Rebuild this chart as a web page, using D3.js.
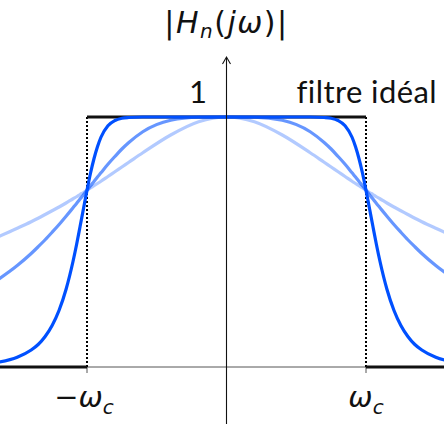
<!DOCTYPE html>
<html>
<head>
<meta charset="utf-8">
<script src="https://cdn.jsdelivr.net/npm/d3@7/dist/d3.min.js"></script>
<style>
  html, body { margin: 0; padding: 0; background: #fff; }
  svg { display: block; }
  text { font-family: Lato, "DejaVu Sans", sans-serif; fill: #111; }
  text.math { font-family: "DejaVu Sans", sans-serif; }
</style>
</head>
<body>
<svg id="chart" width="444" height="424"></svg>
<script>
// ω / ωc sample positions
const omega = [-1.65,-1.5,-1.4,-1.35,-1.3,-1.25,-1.2,-1.15,-1.1,-1.075,-1.05,-1.025,-1.0,-0.975,-0.95,-0.925,-0.9,-0.85,-0.8,-0.75,-0.7,-0.6,-0.4,-0.2,
  0,0.2,0.4,0.6,0.7,0.75,0.8,0.85,0.9,0.925,0.95,0.975,1.0,1.025,1.05,1.075,1.1,1.15,1.2,1.25,1.3,1.35,1.4,1.5,1.65];
// |H_n(jω)| read for each order
const order1 = [0.518,0.555,0.581,0.595,0.610,0.625,0.640,0.656,0.673,0.681,0.690,0.698,0.707,0.716,0.725,0.734,0.743,0.762,0.781,0.800,0.819,0.857,0.928,0.981,
  1,0.981,0.928,0.857,0.819,0.800,0.781,0.762,0.743,0.734,0.725,0.716,0.707,0.698,0.690,0.681,0.673,0.656,0.640,0.625,0.610,0.595,0.581,0.555,0.518];
const order2 = [0.345,0.406,0.454,0.481,0.509,0.539,0.570,0.603,0.637,0.654,0.672,0.689,0.707,0.725,0.742,0.760,0.777,0.811,0.842,0.872,0.898,0.941,0.987,0.999,
  1,0.999,0.987,0.941,0.898,0.872,0.842,0.811,0.777,0.760,0.742,0.725,0.707,0.689,0.672,0.654,0.637,0.603,0.570,0.539,0.509,0.481,0.454,0.406,0.345];
const order8 = [0.018,0.039,0.068,0.090,0.122,0.166,0.227,0.311,0.423,0.489,0.561,0.634,0.707,0.775,0.833,0.881,0.919,0.965,0.986,0.995,0.998,1,1,1,
  1,1,1,1,0.998,0.995,0.986,0.965,0.919,0.881,0.833,0.775,0.707,0.634,0.561,0.489,0.423,0.311,0.227,0.166,0.122,0.090,0.068,0.039,0.018];
const seriesList = [
  { name: "n=1", values: order1, opacity: 0.3 },
  { name: "n=2", values: order2, opacity: 0.6 },
  { name: "n=8", values: order8, opacity: 1.0 }
];
// ideal filter
const idealOmega = [-1.7, -1, -1, 1, 1, 1.7];
const idealValue = [0, 0, 1, 1, 0, 0];
const cutoffs = [-1, 1];
const cutoffLabels = ["−ω", "ω"];
const yTickLabel = "1";
const idealLabel = "filtre idéal";

const W = 444, H = 424;
const svg = d3.select("#chart");
const x = d3.scaleLinear().domain([-1, 1]).range([87, 366]);
const y = d3.scaleLinear().domain([0, 1]).range([367, 117]);
const blue = "#0050ff";

// thin horizontal axis
svg.append("line").attr("x1", 0).attr("x2", W).attr("y1", y(0)).attr("y2", y(0))
  .attr("stroke", "#555").attr("stroke-width", 1);

// ticks at ±ωc
svg.selectAll(".tick").data(cutoffs).enter().append("line")
  .attr("x1", d => x(d)).attr("x2", d => x(d)).attr("y1", y(0)).attr("y2", y(0) + 6)
  .attr("stroke", "#555").attr("stroke-width", 1);

// dotted verticals
svg.selectAll(".cut").data(cutoffs).enter().append("line")
  .attr("x1", d => x(d)).attr("x2", d => x(d)).attr("y1", y(1)).attr("y2", y(0))
  .attr("stroke", "#000").attr("stroke-width", 2).attr("stroke-dasharray", "2,2");

// ideal filter segments (horizontal parts only)
const idealSegs = [];
for (let i = 0; i < idealOmega.length - 1; i++) {
  if (idealValue[i] === idealValue[i + 1]) idealSegs.push([i, i + 1]);
}
svg.selectAll(".ideal").data(idealSegs).enter().append("line")
  .attr("x1", d => x(idealOmega[d[0]])).attr("x2", d => x(idealOmega[d[1]]))
  .attr("y1", d => y(idealValue[d[0]])).attr("y2", d => y(idealValue[d[1]]))
  .attr("stroke", "#111").attr("stroke-width", 3.2);

// Butterworth curves
const line = d3.line().x(d => x(d[0])).y(d => y(d[1])).curve(d3.curveMonotoneX);
seriesList.forEach(s => {
  svg.append("path")
    .datum(omega.map((w, i) => [w, s.values[i]]))
    .attr("d", line)
    .attr("fill", "none")
    .attr("stroke", blue)
    .attr("stroke-opacity", s.opacity)
    .attr("stroke-width", 3.2)
    .attr("stroke-linejoin", "round");
});

// vertical axis with arrow
const x0 = x(0);
svg.append("line").attr("x1", x0).attr("x2", x0).attr("y1", H).attr("y2", 58)
  .attr("stroke", "#111").attr("stroke-width", 1.1);
svg.append("path")
  .attr("d", `M${x0 - 4},${64} L${x0},${57} L${x0 + 4},${64}`)
  .attr("fill", "none").attr("stroke", "#111").attr("stroke-width", 1.1);

// title |H_n(jω)|
const t = svg.append("text").attr("class", "math").attr("x", x0).attr("y", 33).attr("text-anchor", "middle")
  .style("font-size", "30px").style("letter-spacing", "1.5px");
t.append("tspan").text("|");
t.append("tspan").attr("font-style", "italic").text("H");
t.append("tspan").attr("font-style", "italic").attr("font-size", "20px").attr("dy", 5).text("n");
t.append("tspan").attr("dy", -5).text("(");
t.append("tspan").attr("font-style", "italic").text("jω");
t.append("tspan").text(")|");

// "1" label
svg.append("text").attr("x", 198).attr("y", 103).attr("text-anchor", "middle")
  .style("font-size", "31px").text(yTickLabel);

// ideal filter label
svg.append("text").attr("x", 437).attr("y", 103).attr("text-anchor", "end")
  .style("font-size", "31px").style("letter-spacing", "0.4px").text(idealLabel);

// cutoff labels
cutoffs.forEach((c, i) => {
  const g = svg.append("text").attr("class", "math").attr("x", x(c) + (c < 0 ? -3 : 0)).attr("y", 407)
    .attr("text-anchor", "middle").style("font-size", "29px");
  g.append("tspan").attr("font-style", "italic").text(cutoffLabels[i]);
  g.append("tspan").attr("font-style", "italic").attr("font-size", "20px").attr("dy", 7).text("c");
});
</script>
</body>
</html>
